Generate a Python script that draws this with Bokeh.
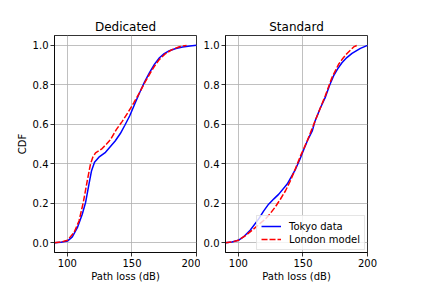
from bokeh.plotting import figure
from bokeh.layouts import row
from bokeh.models import Range1d, FixedTicker, PrintfTickFormatter, Legend, LegendItem
from bokeh.embed import file_html
from bokeh.resources import INLINE

# ---------------- data ----------------
titles = ["Dedicated", "Standard"]
series_names = ["Tokyo data", "London model"]
x_ticks = [100, 150, 200]
y_ticks = [0.0, 0.2, 0.4, 0.6, 0.8, 1.0]

ded_tokyo_x = [90, 95, 100, 103.8, 107.7, 111.5, 114.1, 116.7, 118.7, 121, 124.4, 129.5,
               133, 137, 141, 144.5, 148.2, 152, 155.9, 159.8, 163.6, 167.5, 171.3, 175,
               179, 184, 189.2, 195, 200]
ded_tokyo_y = [0.0, 0.002, 0.008, 0.029, 0.076, 0.144, 0.204, 0.297, 0.365, 0.407, 0.433, 0.458,
               0.485, 0.515, 0.553, 0.595, 0.642, 0.70, 0.76, 0.815, 0.862, 0.905, 0.937, 0.958,
               0.973, 0.984, 0.992, 0.997, 1.0]

ded_london_x = [90, 95, 100, 105.1, 109, 112.3, 115.4, 117.9, 119.8, 121.8, 124.5, 126.9,
                130.3, 133.3, 138, 142.5, 146.9, 151.5, 155.9, 159.8, 163.6, 167.5, 171.3,
                175.5, 180.3, 186.7, 192.3]
ded_london_y = [0.0, 0.003, 0.012, 0.051, 0.11, 0.204, 0.314, 0.399, 0.435, 0.455, 0.466, 0.477,
                0.50, 0.522, 0.574, 0.615, 0.659, 0.71, 0.76, 0.81, 0.853, 0.895, 0.929,
                0.955, 0.976, 0.993, 1.0]

std_tokyo_x = [90, 95, 100, 103.9, 109.1, 115.6, 119.5, 123.4, 127.5, 131.3, 137.8, 144.3,
               147.5, 150.8, 154, 157.3, 159.4, 163.3, 167.2, 170.5, 173.7, 177, 180.2, 184,
               188, 194.5, 200]
std_tokyo_y = [0.0, 0.003, 0.012, 0.029, 0.063, 0.119, 0.16, 0.195, 0.222, 0.246, 0.297, 0.373,
               0.42, 0.475, 0.525, 0.568, 0.617, 0.68, 0.735, 0.795, 0.845, 0.882, 0.912, 0.938,
               0.959, 0.985, 1.0]

std_london_x = [90, 95, 100, 105.2, 113, 120.8, 124.7, 128.6, 132.5, 136.5, 140, 143, 148.2,
                153.4, 159.4, 163.3, 167.2, 172.4, 177.6, 181, 184.1, 189.3, 191.9]
std_london_y = [0.0, 0.003, 0.012, 0.034, 0.076, 0.119, 0.148, 0.181, 0.22, 0.263, 0.31, 0.356,
                0.441, 0.517, 0.617, 0.68, 0.743, 0.836, 0.904, 0.935, 0.959, 0.992, 1.0]

x_label = "Path loss (dB)"
y_label = "CDF"

FONT = "DejaVu Sans"
H = 288


def make_fig(title, width, mb_left, mb_right, show_ylabel):
    p = figure(width=width, height=H, output_backend="svg", toolbar_location=None,
               x_range=Range1d(90, 200), y_range=Range1d(-0.05, 1.05),
               min_border_left=mb_left, min_border_right=mb_right,
               min_border_top=35, min_border_bottom=36)
    p.title.text = title
    p.title.align = "center"
    p.title.text_font = FONT
    p.title.text_font_size = "12px"
    p.title.text_font_style = "normal"
    p.title.text_color = "#000000"
    p.title.standoff = 4
    p.outline_line_color = "black"
    p.outline_line_width = 0.8
    p.outline_line_alpha = 1.0
    p.background_fill_color = "white"
    p.border_fill_color = "white"
    for ax in (p.xaxis[0], p.yaxis[0]):
        ax.axis_line_width = 0.8
        ax.axis_line_color = "black"
        ax.major_tick_line_width = 0.8
        ax.major_tick_line_color = "black"
        ax.major_tick_in = 0
        ax.major_tick_out = 4
        ax.minor_tick_line_color = None
        ax.major_label_text_font = FONT
        ax.major_label_text_font_size = "10px"
        ax.major_label_text_color = "#000000"
        ax.axis_label_text_font = FONT
        ax.axis_label_text_font_size = "10px"
        ax.axis_label_text_font_style = "normal"
        ax.axis_label_text_color = "#000000"
    p.xaxis[0].major_label_standoff = 2
    p.xaxis[0].axis_label_standoff = 1
    p.yaxis[0].major_label_standoff = 2
    p.yaxis[0].axis_label_standoff = 2
    p.xaxis[0].ticker = FixedTicker(ticks=x_ticks)
    p.yaxis[0].ticker = FixedTicker(ticks=y_ticks)
    p.yaxis[0].formatter = PrintfTickFormatter(format="%.1f")
    p.xaxis[0].axis_label = x_label
    if show_ylabel:
        p.yaxis[0].axis_label = y_label
    for g in (p.xgrid[0], p.ygrid[0]):
        g.grid_line_color = "#b0b0b0"
        g.grid_line_width = 0.8
    return p


p1 = make_fig(titles[0], 200, 54, 4, True)
p1.line(ded_tokyo_x, ded_tokyo_y, line_color="#0000ff", line_width=1.5)
p1.line(ded_london_x, ded_london_y, line_color="#ff0000", line_width=1.5, line_dash="6 2")

p2 = make_fig(titles[1], 232, 25, 65, False)
r1 = p2.line(std_tokyo_x, std_tokyo_y, line_color="#0000ff", line_width=1.5)
r2 = p2.line(std_london_x, std_london_y, line_color="#ff0000", line_width=1.5, line_dash="6 2")

legend = Legend(items=[LegendItem(label=series_names[0], renderers=[r1]),
                       LegendItem(label=series_names[1], renderers=[r2])],
                location="bottom_right")
legend.label_text_font = FONT
legend.label_text_font_size = "10px"
legend.label_text_color = "#000000"
legend.glyph_width = 20
legend.glyph_height = 12
legend.label_height = 12
legend.label_standoff = 8
legend.spacing = 1
legend.padding = 4
legend.margin = 2
legend.border_line_color = "#cccccc"
legend.border_line_width = 1
legend.background_fill_color = "white"
legend.background_fill_alpha = 0.8
p2.add_layout(legend)

layout = row(p1, p2, spacing=0)
open("out.html", "w").write(file_html(layout, INLINE))
